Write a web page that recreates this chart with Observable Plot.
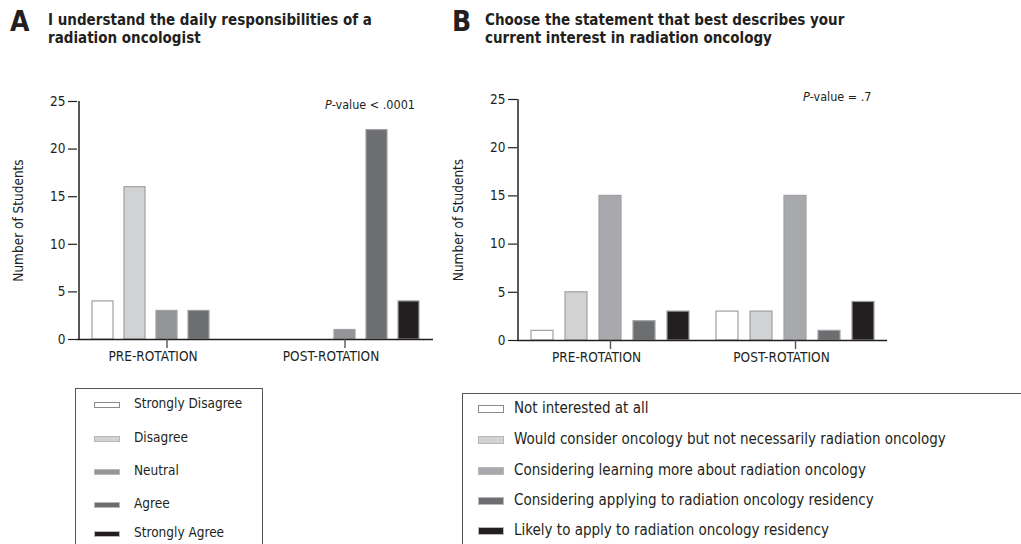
<!DOCTYPE html>
<html><head><meta charset="utf-8">
<script src="https://cdn.jsdelivr.net/npm/d3@7"></script>
<script src="https://cdn.jsdelivr.net/npm/@observablehq/plot@0.6"></script>
<style>
body{margin:0;width:1021px;height:544px;overflow:hidden;background:#fff;position:relative;
 font-family:"DejaVu Sans Condensed","Liberation Sans Narrow","DejaVu Sans",sans-serif;color:#231f20}
.abs{position:absolute;white-space:nowrap}
.letter{font-weight:bold;font-size:28px;line-height:28px}
.title{font-weight:bold;font-size:15px;line-height:18px}
.pval{font-size:12.5px;line-height:14px}
.legend{position:absolute;border:1px solid #555;box-sizing:border-box}
.item{position:absolute;white-space:nowrap}
.sw{position:absolute;box-sizing:border-box;border:1px solid #b8b8b8}
</style></head><body>
<script>
const groups = ["PRE-ROTATION", "POST-ROTATION"];
const yTicks = [0, 5, 10, 15, 20, 25];

const titleA = ["I understand the daily responsibilities of a", "radiation oncologist"];
const seriesA = ["Strongly Disagree", "Disagree", "Neutral", "Agree", "Strongly  Agree"];
const preA = [4, 16, 3, 3, 0];
const postA = [0, 0, 1, 22, 4];
const colorsA = ["#ffffff", "#d1d2d4", "#939598", "#6d6e71", "#231f20"];
const pvalA = "< .0001";

const titleB = ["Choose the statement that best describes your", "current interest in radiation oncology"];
const seriesB = ["Not interested at all", "Would consider oncology but not necessarily radiation oncology",
  "Considering learning more about radiation oncology", "Considering applying to radiation oncology residency",
  "Likely to apply to radiation oncology residency"];
const preB = [1, 5, 15, 2, 3];
const postB = [3, 3, 15, 1, 4];
const colorsB = ["#ffffff", "#d1d2d4", "#a7a9ac", "#6d6e71", "#231f20"];
const pvalB = "= .7";

const FONT = "'DejaVu Sans Condensed','Liberation Sans Narrow','DejaVu Sans',sans-serif";
const STYLE = {"font-family": FONT, "font-size": "13.5px", color: "#231f20", background: "transparent", overflow: "visible"};

function rows(series, pre, post) {
  const out = [];
  series.forEach((s, i) => {
    out.push({group: groups[0], series: s, value: pre[i]});
    out.push({group: groups[1], series: s, value: post[i]});
  });
  return out;
}

function chart(series, pre, post, colors, o) {
  const data = rows(series, pre, post);
  const mid = series[Math.floor(series.length / 2)]; // middle bar = centre of each group
  const yMax = yTicks[yTicks.length - 1];
  // offset from the first bar's centre back to the left edge of its group (band-scale geometry)
  const facetW = (o.width - 77 - o.mr) / groups.length;
  const step = facetW / (series.length - o.pi + 2 * o.po);
  const lineDx = -(step * o.po + step * (1 - o.pi) / 2);
  return Plot.plot({
    width: o.width, height: o.height,
    marginLeft: 77, marginRight: o.mr, marginTop: o.mt, marginBottom: o.mb,
    style: STYLE,
    fx: {domain: groups, padding: 0, axis: null},
    x: {domain: series, paddingInner: o.pi, paddingOuter: o.po, axis: null},
    y: {domain: [0, yMax]},
    color: {domain: series, range: colors},
    marks: [
      Plot.barY(data, {fx: "group", x: "series", y: "value", fill: "series", stroke: "#a0a0a0", strokeWidth: 1.2}),
      Plot.ruleY([0], {stroke: "#231f20", strokeWidth: 1.3}),
      // y axis line, at the left edge of the first group
      Plot.ruleX([groups[0]], {fx: d => d, x: () => series[0], y1: 0, y2: yMax, dx: lineDx,
        stroke: "#231f20", strokeWidth: 1.5}),
      Plot.axisY({ticks: yTicks, tickSize: 9, tickPadding: 3, stroke: "#231f20", strokeWidth: 1.2,
        label: "Number of Students", labelAnchor: "center", labelOffset: 64, labelArrow: false}),
      // group ticks below the axis
      Plot.ruleX(groups, {fx: d => d, x: () => mid, y1: 0, y2: 0, insetBottom: -9, stroke: "#555", strokeWidth: 1.4}),
      // group labels
      Plot.text(groups, {fx: d => d, x: () => mid, text: d => d, frameAnchor: "bottom", dy: 21, dx: -14,
        fontSize: 13.5, fill: "#231f20"})
    ]
  });
}

function place(el, left, top) {
  el.style.position = "absolute"; el.style.left = left + "px"; el.style.top = top + "px";
  document.body.appendChild(el);
}
function text(cls, str, left, top, html) {
  const d = document.createElement("div");
  d.className = "abs " + cls;
  if (html) d.innerHTML = str; else d.textContent = str;
  place(d, left, top);
  return d;
}

// Titles
text("letter", "A", 10, 8);
text("title", titleA.join("<br>"), 48, 11, true);
text("letter", "B", 452, 8);
text("title", titleB.join("<br>"), 485, 11, true);

// Charts
const oA = {width: 440, height: 290, mr: 7, mt: 11, mb: 41, pi: 0.354, po: 0.415};
const oB = {width: 450, height: 290, mr: 3, mt: 9, mb: 40, pi: 0.353, po: 0.397};
place(chart(seriesA, preA, postA, colorsA, oA), 0, 90);
place(chart(seriesB, preB, postB, colorsB, oB), 440, 90);

// P-values
const pa = text("pval", "<i>P</i>-value " + pvalA, 0, 98, true);
pa.style.left = (415 - pa.offsetWidth) + "px";
const pb = text("pval", "<i>P</i>-value " + pvalB, 0, 90, true);
pb.style.left = (872 - pb.offsetWidth) + "px";

// Legends
function legend(series, colors, o) {
  const box = document.createElement("div");
  box.className = "legend";
  box.style.width = o.w + "px"; box.style.height = o.h + "px";
  series.forEach((s, i) => {
    const cy = o.ys[i] - o.top;
    const sw = document.createElement("div");
    sw.className = "sw";
    sw.style.left = (o.swx - o.left) + "px";
    sw.style.top = (cy - o.swh / 2) + "px";
    sw.style.width = "26px"; sw.style.height = o.swh + "px";
    sw.style.background = colors[i];
    if (colors[i] === "#ffffff") sw.style.borderColor = "#8a8a8a";
    box.appendChild(sw);
    const t = document.createElement("div");
    t.className = "item";
    t.textContent = s;
    t.style.fontSize = o.fs + "px"; t.style.lineHeight = o.fs + "px";
    t.style.left = (o.tx - o.left) + "px";
    t.style.top = (cy - o.fs / 2 - 1) + "px";
    box.appendChild(t);
  });
  place(box, o.left, o.top);
}
legend(seriesA, colorsA, {left: 75, top: 388, w: 188, h: 200, swx: 93, swh: 6, tx: 133, fs: 13.5, ys: [404, 438, 471, 504, 533]});
legend(seriesB, colorsB, {left: 462, top: 393, w: 600, h: 200, swx: 477, swh: 8, tx: 513, fs: 15, ys: [408, 439, 470, 500, 530]});
</script>
</body></html>
